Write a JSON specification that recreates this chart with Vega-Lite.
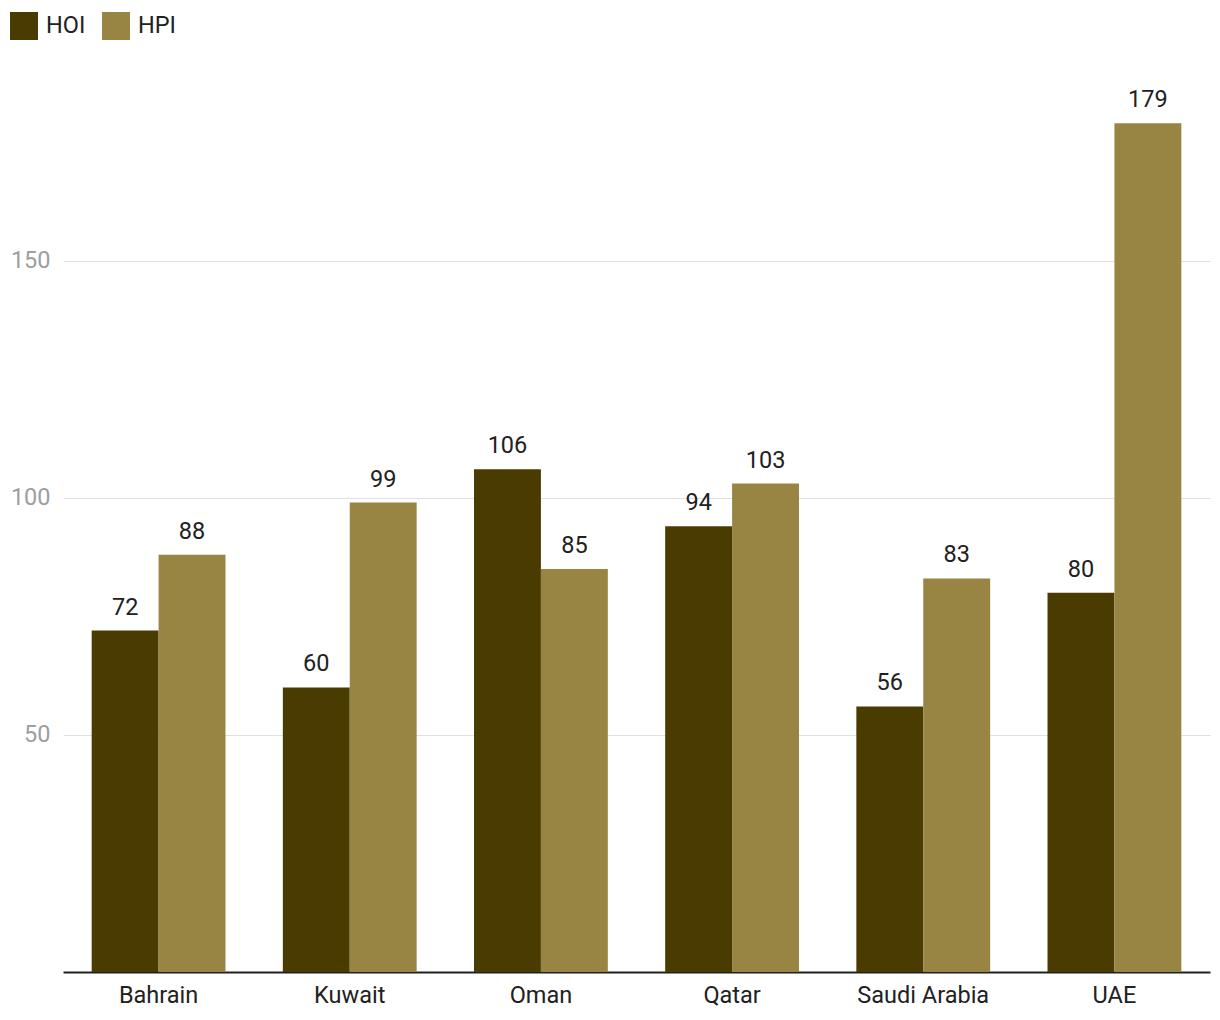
{
  "$schema": "https://vega.github.io/schema/vega-lite/v6.json",
  "width": 1147,
  "height": 901,
  "autosize": {"type": "none"},
  "padding": {"left": 63, "top": 71, "right": 10, "bottom": 48},
  "background": "white",
  "config": {
    "font": "Roboto",
    "view": {"stroke": null},
    "axis": {"labelFont": "Roboto", "titleFont": "Roboto"},
    "legend": {"labelFont": "Roboto"}
  },
  "data": {
    "values": [
      {"country": "Bahrain", "series": "HOI", "value": 72},
      {"country": "Bahrain", "series": "HPI", "value": 88},
      {"country": "Kuwait", "series": "HOI", "value": 60},
      {"country": "Kuwait", "series": "HPI", "value": 99},
      {"country": "Oman", "series": "HOI", "value": 106},
      {"country": "Oman", "series": "HPI", "value": 85},
      {"country": "Qatar", "series": "HOI", "value": 94},
      {"country": "Qatar", "series": "HPI", "value": 103},
      {"country": "Saudi Arabia", "series": "HOI", "value": 56},
      {"country": "Saudi Arabia", "series": "HPI", "value": 83},
      {"country": "UAE", "series": "HOI", "value": 80},
      {"country": "UAE", "series": "HPI", "value": 179}
    ]
  },
  "encoding": {
    "x": {
      "field": "country",
      "type": "nominal",
      "sort": null,
      "scale": {"paddingInner": 0.3, "paddingOuter": 0.15},
      "axis": {
        "title": null,
        "labelAngle": 0,
        "labelFontSize": 23.5,
        "labelColor": "#212121",
        "labelPadding": 11,
        "ticks": false,
        "domainColor": "#212121",
        "domainWidth": 2
      }
    },
    "xOffset": {"field": "series", "type": "nominal"},
    "y": {
      "field": "value",
      "type": "quantitative",
      "scale": {"domain": [0, 190], "nice": false},
      "axis": {
        "title": null,
        "values": [50, 100, 150],
        "labelFontSize": 23.5,
        "labelColor": "#9e9e9e",
        "labelPadding": 13,
        "ticks": false,
        "domain": false,
        "gridColor": "#e0e0e0",
        "gridWidth": 1
      }
    }
  },
  "layer": [
    {
      "mark": {"type": "bar"},
      "encoding": {
        "color": {
          "field": "series",
          "type": "nominal",
          "scale": {"domain": ["HOI", "HPI"], "range": ["#4a3c00", "#988543"]},
          "legend": {
            "title": null,
            "orient": "none",
            "direction": "horizontal",
            "legendX": -53,
            "legendY": -59,
            "symbolType": "square",
            "symbolSize": 784,
            "symbolStrokeWidth": 0,
            "symbolOpacity": 1,
            "labelFontSize": 23.5,
            "labelColor": "#212121",
            "labelOffset": 8,
            "columnPadding": 16,
            "padding": 0
          }
        }
      }
    },
    {
      "mark": {"type": "text", "baseline": "bottom", "dy": -11, "fontSize": 23.5, "color": "#212121"},
      "encoding": {
        "text": {"field": "value", "type": "quantitative"}
      }
    }
  ]
}
